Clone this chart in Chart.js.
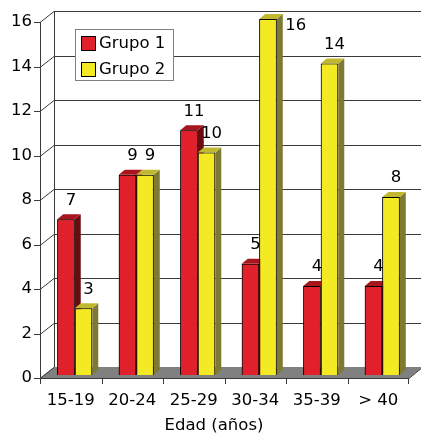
<!DOCTYPE html>
<html>
<head>
<meta charset="utf-8">
<script src="https://cdn.jsdelivr.net/npm/chart.js@4.4.1/dist/chart.umd.min.js"></script>
<style>
  html, body { margin: 0; padding: 0; background: #fff; }
  #wrap { width: 421px; height: 437px; }
</style>
</head>
<body>
<div id="wrap"><canvas id="grafico" width="421" height="437"></canvas></div>
<script>
// datos
const categorias = ['15-19', '20-24', '25-29', '30-34', '35-39', '> 40'];
const grupo1 = [7, 9, 11, 5, 4, 4];
const grupo2 = [3, 9, 10, 16, 14, 8];
const nombres = ['Grupo 1', 'Grupo 2'];
const yMin = 0, yMax = 16, yPaso = 2;

const FUENTE = '"DejaVu Sans", Verdana, sans-serif';
const TAM = 16.5;
const frente = ['#E0202A', '#F4EA24'];
const lado = ['#6A0B10', '#7F7A33'];
const tapa = ['#A8161D', '#C0B82E'];

// desplazamientos de la perspectiva
const pared = {dx: 14, dy: -11};
const barras = {dx: 4, dy: -3};
const prof = {dx: 6, dy: -5};

const efecto3d = {
  id: 'efecto3d',
  beforeDatasetsDraw(chart) {
    const ctx = chart.ctx;
    const a = chart.chartArea;
    const y = chart.scales.y;
    const x = chart.scales.x;
    ctx.save();
    // suelo
    ctx.fillStyle = '#808080';
    ctx.beginPath();
    ctx.moveTo(a.left, a.bottom);
    ctx.lineTo(a.right, a.bottom);
    ctx.lineTo(a.right + pared.dx, a.bottom + pared.dy);
    ctx.lineTo(a.left + pared.dx, a.bottom + pared.dy);
    ctx.closePath();
    ctx.fill();
    // lineas de la pared
    ctx.strokeStyle = '#3a3a3a';
    ctx.lineWidth = 1;
    for (let v = yMin; v <= yMax; v += yPaso) {
      const py = Math.round(y.getPixelForValue(v)) + 0.5;
      ctx.beginPath();
      ctx.moveTo(a.left - 6, py);
      ctx.lineTo(a.left, py);
      ctx.lineTo(a.left + pared.dx, py + pared.dy);
      if (v > yMin) ctx.lineTo(a.right + pared.dx, py + pared.dy);
      ctx.stroke();
    }
    // ejes
    ctx.beginPath();
    ctx.moveTo(a.left + 0.5, a.top);
    ctx.lineTo(a.left + 0.5, a.bottom);
    ctx.moveTo(a.left + pared.dx + 0.5, a.top + pared.dy);
    ctx.lineTo(a.left + pared.dx + 0.5, a.bottom + pared.dy);
    ctx.moveTo(a.left, a.bottom + 0.5);
    ctx.lineTo(a.right, a.bottom + 0.5);
    ctx.lineTo(a.right + pared.dx, a.bottom + pared.dy);
    ctx.stroke();
    // marcas del eje x
    const paso = x.getPixelForValue(1) - x.getPixelForValue(0);
    for (let i = 0; i <= categorias.length; i++) {
      const px = i < categorias.length
        ? Math.round(x.getPixelForValue(i) - paso / 2) + 0.5
        : a.right - 0.5;
      ctx.beginPath();
      ctx.moveTo(px, a.bottom);
      ctx.lineTo(px, a.bottom + 6);
      ctx.stroke();
    }
    ctx.restore();
    ctx.save();
    ctx.translate(barras.dx, barras.dy);
  },
  afterDatasetsDraw(chart) {
    const ctx = chart.ctx;
    const metas = [chart.getDatasetMeta(0), chart.getDatasetMeta(1)];
    for (let i = 0; i < categorias.length; i++) {
      metas.forEach((meta, d) => {
        const bar = meta.data[i];
        bar.draw(ctx);
        const p = bar.getProps(['x', 'y', 'base', 'width'], true);
        const l = p.x - p.width / 2, r = p.x + p.width / 2;
        ctx.fillStyle = lado[d];
        ctx.beginPath();
        ctx.moveTo(r, p.y);
        ctx.lineTo(r + prof.dx, p.y + prof.dy);
        ctx.lineTo(r + prof.dx, p.base + prof.dy);
        ctx.lineTo(r, p.base);
        ctx.closePath();
        ctx.fill();
        ctx.fillStyle = tapa[d];
        ctx.beginPath();
        ctx.moveTo(l, p.y);
        ctx.lineTo(l + prof.dx, p.y + prof.dy);
        ctx.lineTo(r + prof.dx, p.y + prof.dy);
        ctx.lineTo(r, p.y);
        ctx.closePath();
        ctx.fill();
      });
    }
    // etiquetas de valores
    ctx.fillStyle = '#000';
    ctx.font = TAM + 'px ' + FUENTE;
    ctx.textAlign = 'center';
    ctx.textBaseline = 'middle';
    metas.forEach((meta, d) => {
      const valores = chart.data.datasets[d].data;
      meta.data.forEach((bar, i) => {
        const p = bar.getProps(['x', 'y', 'width'], true);
        let lx = p.x + 5, ly = p.y - 19;
        if (ly + barras.dy < 12) {
          lx = p.x + p.width / 2 + 19;
          ly = p.y + 7;
        }
        ctx.fillText(String(valores[i]), lx, ly);
      });
    });
    ctx.restore();
  },
  afterDraw(chart) {
    const ctx = chart.ctx;
    ctx.save();
    // leyenda
    ctx.fillStyle = '#fff';
    ctx.fillRect(75.5, 29.5, 98, 51);
    ctx.strokeStyle = '#808080';
    ctx.lineWidth = 1;
    ctx.strokeRect(75.5, 29.5, 98, 51);
    ctx.font = TAM + 'px ' + FUENTE;
    ctx.textAlign = 'left';
    ctx.textBaseline = 'middle';
    nombres.forEach((n, d) => {
      const yy = 36 + d * 26;
      ctx.fillStyle = frente[d];
      ctx.fillRect(81.5, yy + 0.5, 14, 14);
      ctx.strokeStyle = '#000';
      ctx.strokeRect(81.5, yy + 0.5, 14, 14);
      ctx.fillStyle = '#000';
      ctx.fillText(n, 99, yy + 8);
    });
    // titulo del eje x
    ctx.textAlign = 'center';
    ctx.fillText('Edad (años)', 214, 425.5);
    ctx.restore();
  }
};

new Chart(document.getElementById('grafico'), {
  type: 'bar',
  data: {
    labels: categorias,
    datasets: [
      {label: nombres[0], data: grupo1, backgroundColor: frente[0], borderColor: '#000', borderWidth: 1, clip: false},
      {label: nombres[1], data: grupo2, backgroundColor: frente[1], borderColor: '#000', borderWidth: 1, clip: false}
    ]
  },
  options: {
    responsive: false,
    animation: false,
    events: [],
    layout: {padding: {top: 22, right: 12, left: 0, bottom: 0}},
    datasets: {bar: {categoryPercentage: 0.57, barPercentage: 1}},
    plugins: {legend: {display: false}, tooltip: {enabled: false}},
    scales: {
      x: {
        grid: {display: false, drawTicks: false},
        border: {display: false},
        ticks: {color: '#000', font: {family: FUENTE, size: TAM}, padding: 13, maxRotation: 0},
        afterFit(s) { s.height = 59; }
      },
      y: {
        min: yMin, max: yMax,
        grid: {display: false, drawTicks: false},
        border: {display: false},
        ticks: {stepSize: yPaso, color: '#000', font: {family: FUENTE, size: TAM}, padding: 8},
        afterFit(s) { s.width = 40; }
      }
    }
  },
  plugins: [efecto3d]
});
</script>
</body>
</html>
